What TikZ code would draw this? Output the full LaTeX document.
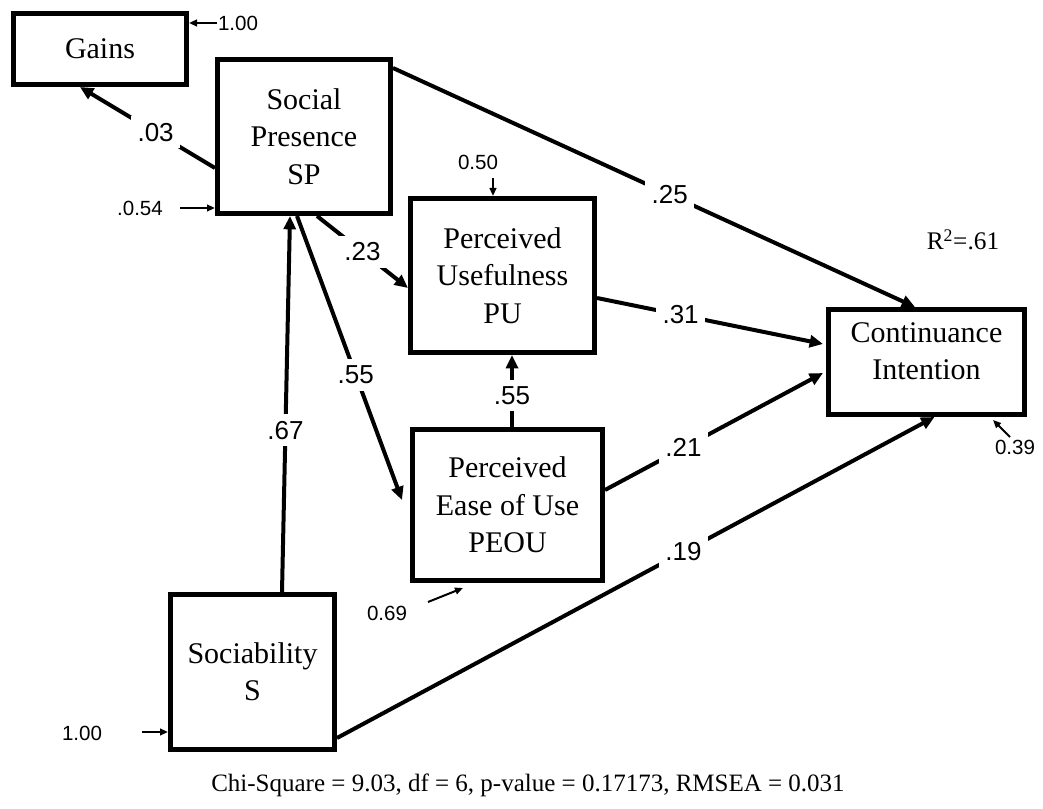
\documentclass[tikz,border=0pt]{standalone}
\usepackage{fontspec}
\setmainfont{Liberation Serif}
\newfontfamily\arialf{Liberation Sans}
\usetikzlibrary{arrows.meta,calc}
\begin{document}
\begin{tikzpicture}[x=0.75pt,y=-0.75pt,
  box/.style={draw,line width=3.75pt,align=center,inner sep=0pt,
    font=\fontsize{22.5}{28}\selectfont},
  conn/.style={line width=3pt,-{Triangle[length=10pt,width=9pt]}},
  sarrow/.style={line width=1.5pt,-{Triangle[length=6pt,width=5pt]}},
  lab/.style={fill=white,inner sep=5pt,font=\arialf\fontsize{19.5}{22}\selectfont},
  small/.style={inner sep=0pt,font=\arialf\fontsize{15.4}{18}\selectfont}]
\fill[white] (0,0) rectangle (1043,809);
\useasboundingbox (0,0) rectangle (1043,809);

% boxes
\node[box,minimum width=129.75pt,minimum height=53.25pt] (gains) at (100,49) {Gains};
\node[box,minimum width=129.75pt,minimum height=115.5pt] (sp) at (304,136.5) {Social\\Presence\\SP};
\node[box,minimum width=138pt,minimum height=115.5pt] (pu) at (502.5,275.5) {Perceived\\Usefulness\\PU};
\node[box,minimum width=142.5pt,minimum height=113.25pt] (peou) at (507.5,505) {Perceived\\Ease of Use\\PEOU};
\node[box,minimum width=147pt,minimum height=78.75pt] (ci) at (926.5,362) {Continuance\\Intention\\[-12pt]\mbox{}};
\node[box,minimum width=123pt,minimum height=116.25pt] (s) at (252.5,672) {Sociability\\S};

% paths
\draw[conn] ($(sp.west)+(0,31.5)$) -- node[lab,pos=0.44] (l03) {.03} ($(gains.south)+(-20,0)$);
\draw[conn] ($(sp.north east)+(0,11)$) -- node[lab,pos=0.53] (l25) {.25} ($(ci.north)+(-11.5,0)$);
\draw[conn] ($(sp.south)+(13,0)$) -- node[lab,pos=0.5] (l23) {.23} ($(pu.west)+(0,12.5)$);
\draw[conn] ($(sp.south)+(-7,0)$) -- node[lab,pos=0.56] (l55a) {.55} ($(peou.west)+(-8,-5)$);
\draw[conn] ($(s.north)+(29.5,0)$) -- node[lab,pos=0.43] (l67) {.67} ($(sp.south)+(-14,0)$);
\draw[conn] ($(pu.east)+(0,22.5)$) -- node[lab,pos=0.37] (l31) {.31} ($(ci.west)+(-3,-18)$);
\draw[conn] ($(peou.east)+(0,-15)$) -- node[lab,pos=0.36] (l21) {.21} ($(ci.west)+(-3,11)$);
\draw[conn] ($(s.east)+(0,66)$) -- node[lab,pos=0.58] (l19) {.19} ($(ci.south)+(8,0)$);
\draw[conn] ($(peou.north)+(4.5,0)$) -- node[lab,pos=0.44] (l55b) {.55} ($(pu.south)+(9.5,0)$);

% error terms
\node[small] (e1) at (238,23) {1.00};
\coordinate (t1) at (217,23);
\draw[sarrow] (t1) -- ($(gains.north east)+(0,12)$);
\node[small] (e2) at (140,208) {.0.54};
\coordinate (t2) at (180,208);
\draw[sarrow] (t2) -- (sp.west |- t2);
\node[small] (e3) at (478,162) {0.50};
\coordinate (t3) at (493,178);
\draw[sarrow] (t3) -- (pu.north -| t3);
\node[small] (e4) at (387,613) {0.69};
\coordinate (t4) at (428,602);
\draw[sarrow] (t4) -- ($(peou.south)+(-44.5,5)$);
\node[small] (e5) at (1015,447) {0.39};
\coordinate (t5) at (1010,437);
\draw[sarrow] (t5) -- ($(ci.south)+(66.5,3)$);
\node[small] (e6) at (82,733) {1.00};
\coordinate (t6) at (142,732);
\draw[sarrow] (t6) -- (s.west |- t6);

\node[font=\fontsize{19}{22}\selectfont,inner sep=0pt] (rsq) at (963,240) {R\textsuperscript{2}=.61};
\node[font=\fontsize{18.75}{22}\selectfont,inner sep=0pt] (chisq) at (528,785) {Chi-Square = 9.03, df = 6, p-value = 0.17173, RMSEA = 0.031};
\end{tikzpicture}
\end{document}
